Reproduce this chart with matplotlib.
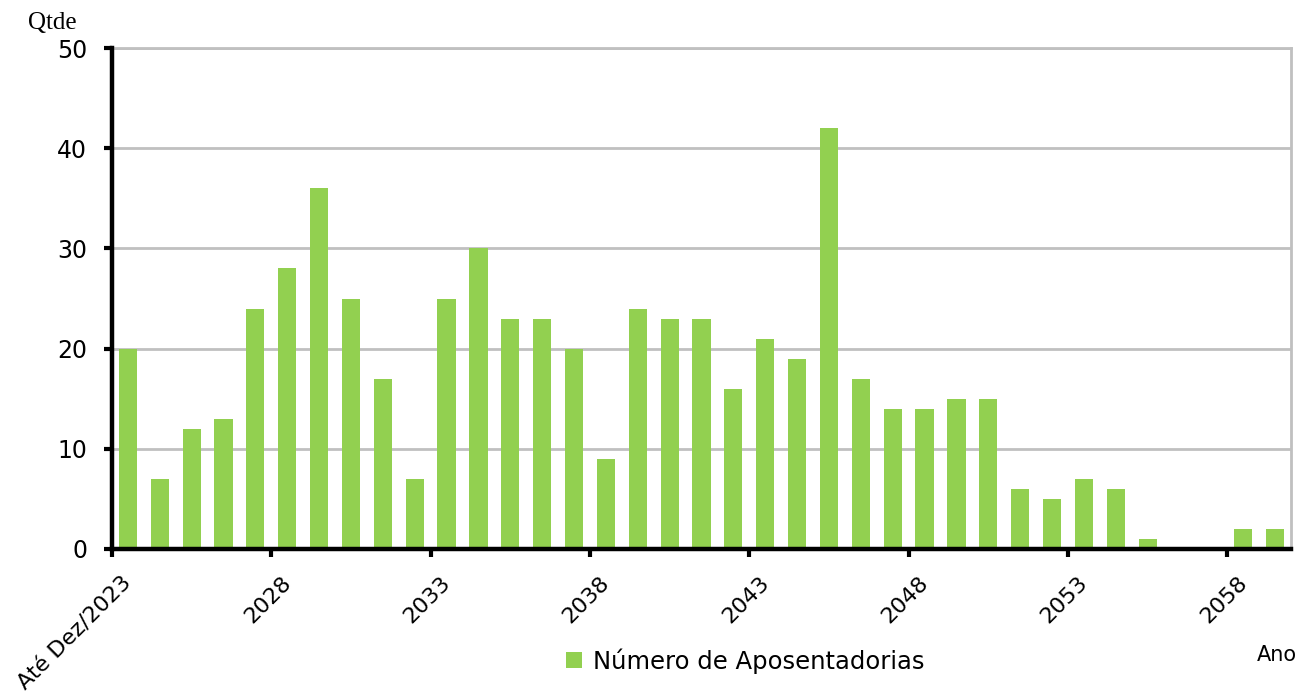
import matplotlib
matplotlib.use("Agg")
import matplotlib.pyplot as plt
import numpy as np

categories = ["Até Dez/2023"] + [str(y) for y in range(2024, 2060)]
values = [20, 7, 12, 13, 24, 28, 36, 25, 17, 7, 25, 30, 23, 23, 20, 9, 24, 23, 23, 16,
          21, 19, 42, 17, 14, 14, 15, 15, 6, 5, 7, 6, 1, 0, 0, 2, 2]
yticks = [0, 10, 20, 30, 40, 50]
series_name = "Número de Aposentadorias"

plt.rcParams['font.family'] = ['DejaVu Sans']

fig = plt.figure(figsize=(13.02, 6.96), dpi=100)
ax = fig.add_axes([112/1302, 1-549/696, (1291-112)/1302, (549-48)/696])

x = np.arange(len(categories))
ax.bar(x, values, width=0.57, color='#92D050', zorder=2, label=series_name)

ax.set_xlim(-0.5, len(categories) - 0.5)
ax.set_ylim(0, 50)
ax.set_yticks(yticks)
ax.set_yticklabels([str(v) for v in yticks], fontsize=17)
ax.yaxis.grid(True, color='#C0C0C0', linewidth=2, zorder=0)
ax.set_axisbelow(True)

# major ticks: category boundaries every 5
bounds = np.arange(-0.5, len(categories), 5)
ax.set_xticks(bounds)
ax.set_xticklabels([])
ax.tick_params(axis='x', length=6, width=3, color='black', direction='out')
ax.tick_params(axis='y', length=6, width=3, color='black', direction='out', pad=12)

# labels at category centers every 5
for i in range(0, len(categories), 5):
    ax.text(i - 0.2, -2.4, categories[i], rotation=45, ha='right', va='top',
            rotation_mode='anchor', fontsize=16, transform=ax.transData)

for s in ['left', 'bottom']:
    ax.spines[s].set_color('black')
    ax.spines[s].set_linewidth(3.2)
    ax.spines[s].set_zorder(3)
for s in ['top', 'right']:
    ax.spines[s].set_color('#C0C0C0')
    ax.spines[s].set_linewidth(2)

fig.text(28/1302, 1-23/696, "Qtde", fontsize=18, family='Liberation Serif', va='center', ha='left')
fig.text(1277/1302, 1-655/696, "Ano", fontsize=15, va='center', ha='center')

leg = fig.legend(loc='center', bbox_to_anchor=(745/1302, 1-661/696), frameon=False,
                 fontsize=17.5, handlelength=0.65, handleheight=0.65, handletextpad=0.45)

fig.savefig("out.png", dpi=100)
